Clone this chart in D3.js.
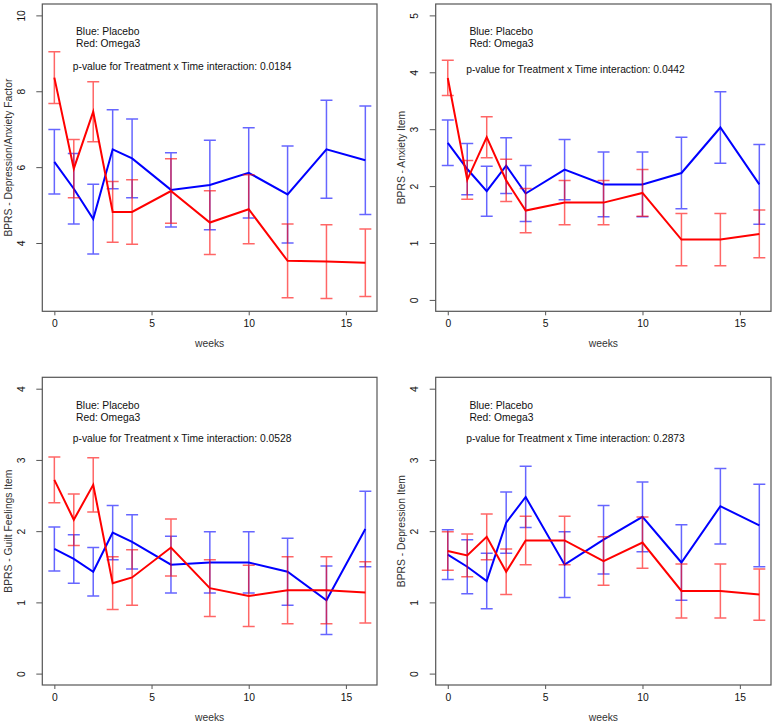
<!DOCTYPE html>
<html>
<head>
<meta charset="utf-8">
<script src="https://cdn.jsdelivr.net/npm/d3@7"></script>
<style>
  body { margin: 0; background: #fff; }
  svg { display: block; font-family: "Liberation Sans", Arial, sans-serif; }
</style>
</head>
<body>
<svg id="chart"></svg>
<script>
const width = 775;
const height = 725;

// weeks of follow-up, shared by all four panels
const weeks = [0, 1, 2, 3, 4, 6, 8, 10, 12, 14, 16];
const xTicks = [0, 5, 10, 15];

// panel titles and p-values
const yTitles = ["BPRS - Depression/Anxiety Factor", "BPRS - Anxiety Item",
  "BPRS - Guilt Feelings Item", "BPRS - Depression Item"];
const pValues = ["0.0184", "0.0442", "0.0528", "0.2873"];
const yTicks1 = [4, 6, 8, 10];
const yTicks2 = [0, 1, 2, 3, 4, 5];
const yTicks34 = [0, 1, 2, 3, 4];

// depression/anxiety factor
const depAnxPlacebo = [6.14, 5.43, 4.63, 6.47, 6.23, 5.40, 5.53, 5.85, 5.28, 6.47, 6.18];
const depAnxPlaceboSE = [0.85, 0.93, 0.92, 1.04, 1.04, 0.98, 1.18, 1.19, 1.28, 1.29, 1.43];
const depAnxOmega = [8.36, 5.96, 7.46, 4.82, 4.82, 5.37, 4.54, 4.89, 3.53, 3.51, 3.48];
const depAnxOmegaSE = [0.68, 0.77, 0.79, 0.80, 0.85, 0.85, 0.84, 0.91, 0.97, 0.97, 0.89];

// anxiety item
const anxPlacebo = [2.76, 2.30, 1.91, 2.36, 1.87, 2.29, 2.03, 2.03, 2.23, 3.03, 2.03];
const anxPlaceboSE = [0.40, 0.45, 0.44, 0.49, 0.49, 0.53, 0.57, 0.57, 0.63, 0.63, 0.70];
const anxOmega = [3.90, 2.11, 2.86, 2.10, 1.57, 1.71, 1.71, 1.88, 1.06, 1.06, 1.16];
const anxOmegaSE = [0.31, 0.34, 0.36, 0.37, 0.39, 0.39, 0.39, 0.41, 0.46, 0.46, 0.42];

// guilt feelings item
const guiltPlacebo = [1.75, 1.61, 1.43, 1.98, 1.85, 1.53, 1.56, 1.56, 1.43, 1.03, 2.03];
const guiltPlaceboSE = [0.31, 0.34, 0.34, 0.38, 0.38, 0.40, 0.43, 0.43, 0.47, 0.48, 0.53];
const guiltOmega = [2.72, 2.16, 2.65, 1.27, 1.35, 1.77, 1.20, 1.09, 1.17, 1.17, 1.14];
const guiltOmegaSE = [0.32, 0.36, 0.38, 0.37, 0.39, 0.40, 0.40, 0.43, 0.47, 0.47, 0.43];

// depression item
const depPlacebo = [1.67, 1.50, 1.30, 2.12, 2.48, 1.53, 1.88, 2.20, 1.56, 2.35, 2.08];
const depPlaceboSE = [0.35, 0.38, 0.39, 0.43, 0.43, 0.46, 0.48, 0.49, 0.53, 0.53, 0.58];
const depOmega = [1.72, 1.66, 1.92, 1.43, 1.87, 1.87, 1.58, 1.84, 1.16, 1.16, 1.11];
const depOmegaSE = [0.27, 0.30, 0.32, 0.32, 0.34, 0.34, 0.34, 0.36, 0.38, 0.38, 0.36];

const svg = d3.select("#chart")
    .attr("width", width)
    .attr("height", height);

svg.append("rect").attr("width", width).attr("height", height).attr("fill", "#fff");

// plot box of each panel, with y range (R style 4% padding)
const panels = [
  { x0: 42.3, x1: 377, y0: 4, y1: 311.3, yDomain: [2.2, 10.3], yTicks: yTicks1,
    placebo: depAnxPlacebo, placeboSE: depAnxPlaceboSE, omega: depAnxOmega, omegaSE: depAnxOmegaSE, textY: [27, 39.3, 62.7] },
  { x0: 435.7, x1: 771, y0: 4, y1: 311.3, yDomain: [-0.2, 5.2], yTicks: yTicks2,
    placebo: anxPlacebo, placeboSE: anxPlaceboSE, omega: anxOmega, omegaSE: anxOmegaSE, textY: [27, 39.3, 65] },
  { x0: 42.3, x1: 377, y0: 377.3, y1: 685, yDomain: [-0.16, 4.16], yTicks: yTicks34,
    placebo: guiltPlacebo, placeboSE: guiltPlaceboSE, omega: guiltOmega, omegaSE: guiltOmegaSE, textY: [27.7, 40.4, 61] },
  { x0: 435.7, x1: 771, y0: 377.3, y1: 685, yDomain: [-0.16, 4.16], yTicks: yTicks34,
    placebo: depPlacebo, placeboSE: depPlaceboSE, omega: depOmega, omegaSE: depOmegaSE, textY: [27.7, 40.4, 61] }
];

const fontSize = 10.3;
const textColor = "#111";
const capHalf = 6;

panels.forEach((p, i) => {
  const x = d3.scaleLinear().domain([-0.62, 16.6]).range([p.x0, p.x1]);
  const y = d3.scaleLinear().domain(p.yDomain).range([p.y1, p.y0]);
  const g = svg.append("g");

  // x axis
  const xAxis = g.append("g")
    .attr("transform", `translate(0,${p.y1})`)
    .call(d3.axisBottom(x).tickValues(xTicks).tickSize(4).tickPadding(4.5).tickFormat(d3.format("d")));
  xAxis.select(".domain").remove();
  xAxis.selectAll("line").attr("stroke", "#555");
  xAxis.selectAll("text").attr("font-size", fontSize).attr("fill", textColor).attr("font-family", null);

  // y axis, labels parallel to the axis like base R
  const yAxis = g.append("g")
    .attr("transform", `translate(${p.x0},0)`)
    .call(d3.axisLeft(y).tickValues(p.yTicks).tickSize(6).tickFormat(d3.format("d")));
  yAxis.select(".domain").remove();
  yAxis.selectAll("line").attr("stroke", "#555");
  yAxis.selectAll("text")
    .attr("font-size", fontSize).attr("fill", textColor).attr("font-family", null)
    .attr("x", null).attr("dy", null)
    .attr("text-anchor", "middle")
    .attr("transform", "translate(-17.5,0) rotate(-90)");

  // box
  g.append("rect")
    .attr("x", p.x0).attr("y", p.y0)
    .attr("width", p.x1 - p.x0).attr("height", p.y1 - p.y0)
    .attr("fill", "none").attr("stroke", "#555").attr("stroke-width", 1.2);

  // axis titles
  g.append("text")
    .attr("x", (p.x0 + p.x1) / 2).attr("y", p.y1 + 36)
    .attr("text-anchor", "middle").attr("font-size", fontSize).attr("fill", "#333")
    .text("weeks");
  g.append("text")
    .attr("transform", `translate(${p.x0 - 30.5},${(p.y0 + p.y1) / 2}) rotate(-90)`)
    .attr("text-anchor", "middle").attr("font-size", fontSize).attr("fill", "#333")
    .text(yTitles[i]);

  // annotations
  const notes = [
    { dx: 33.7, dy: p.textY[0], t: "Blue: Placebo" },
    { dx: 33.7, dy: p.textY[1], t: "Red: Omega3" },
    { dx: 30.5, dy: p.textY[2], t: "p-value for Treatment x Time interaction: " + pValues[i] }
  ];
  g.selectAll("text.note").data(notes).join("text")
    .attr("class", "note")
    .attr("x", d => p.x0 + d.dx).attr("y", d => p.y0 + d.dy + 3.6)
    .attr("font-size", fontSize).attr("fill", textColor)
    .text(d => d.t);

  const series = [
    { mean: p.placebo, se: p.placeboSE, color: "#0000ff", bar: "rgba(0,0,255,0.6)" },
    { mean: p.omega, se: p.omegaSE, color: "#ff0000", bar: "rgba(255,0,0,0.6)" }
  ];

  const line = d3.line().x((d, j) => x(weeks[j])).y(d => y(d));

  series.forEach(s => {
    const pts = weeks.map((w, j) => ({ w: w, m: s.mean[j], se: s.se[j] }));
    const eb = g.append("g").attr("stroke", s.bar).attr("stroke-width", 1.5).attr("fill", "none");
    eb.selectAll("path").data(pts).join("path")
      .attr("d", d => {
        const cx = x(d.w), top = y(d.m + d.se), bot = y(d.m - d.se);
        return `M${cx - capHalf},${top}H${cx + capHalf}M${cx},${top}V${bot}M${cx - capHalf},${bot}H${cx + capHalf}`;
      });
    g.append("path")
      .datum(s.mean)
      .attr("d", line)
      .attr("fill", "none")
      .attr("stroke", s.color)
      .attr("stroke-width", 2);
  });
});
</script>
</body>
</html>
